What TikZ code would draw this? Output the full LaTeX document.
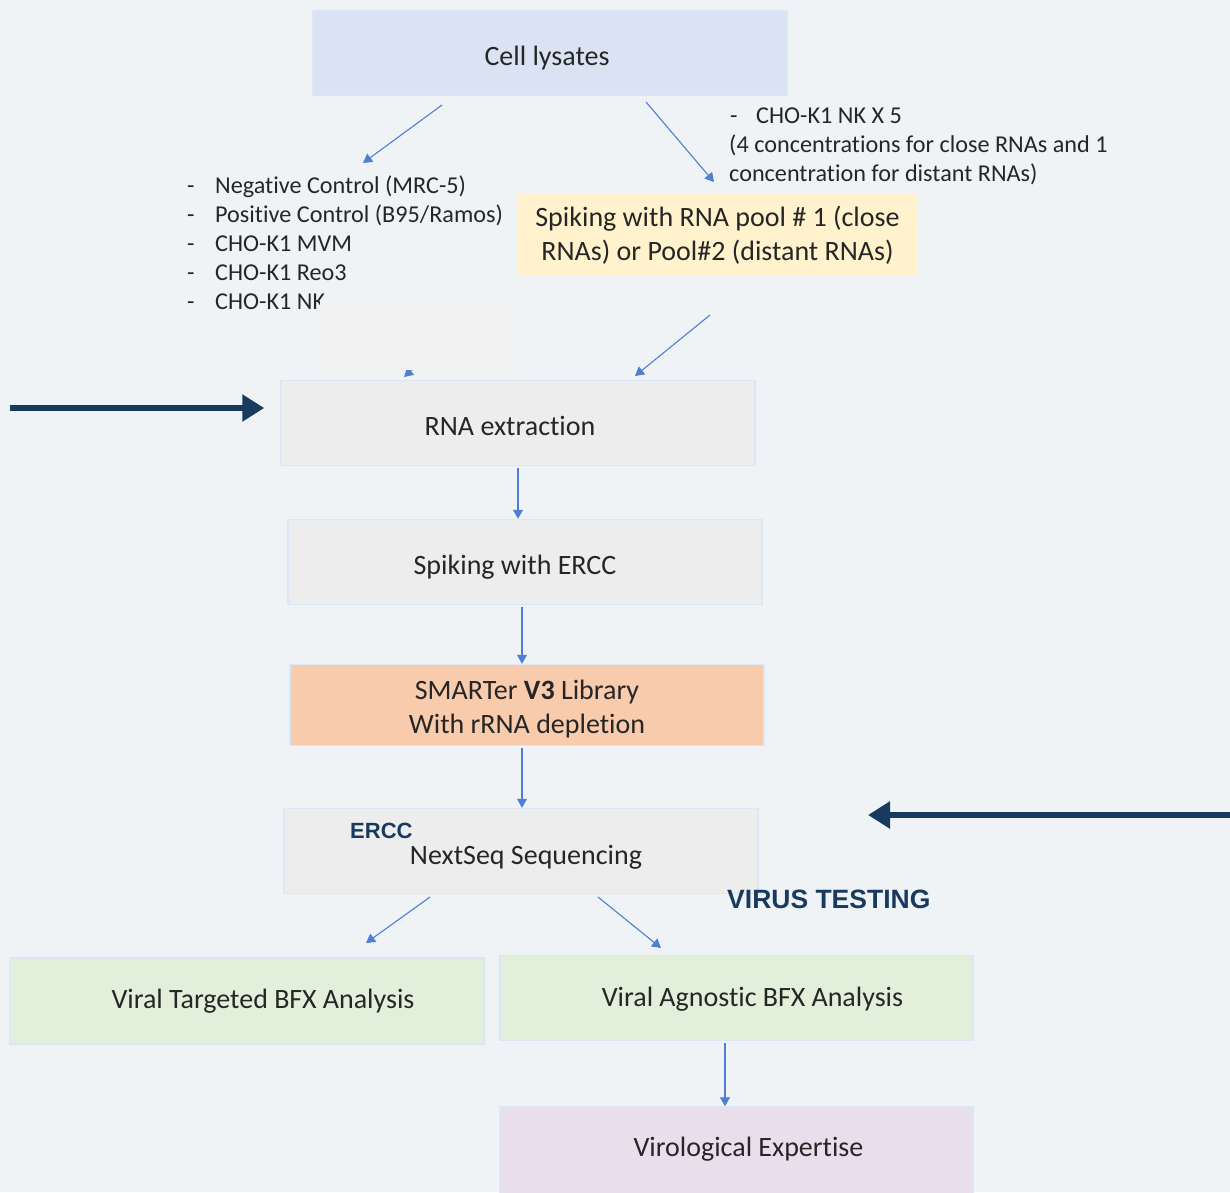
\documentclass[tikz,border=0pt]{standalone}
\usepackage{fontspec}
\setmainfont{Carlito}[Ligatures={NoCommon}]
\newfontfamily\headfont{Liberation Sans}
\usetikzlibrary{arrows.meta}
\definecolor{bgc}{HTML}{EFF3F5}
\definecolor{edgec}{HTML}{DCE6F4}
\definecolor{blueb}{HTML}{DAE3F3}
\definecolor{greyb}{HTML}{EDEDED}
\definecolor{yellowb}{HTML}{FFF2CC}
\definecolor{orangeb}{HTML}{F8CBAD}
\definecolor{greenb}{HTML}{E2EFDA}
\definecolor{pinkb}{HTML}{E9DEEC}
\definecolor{coverc}{HTML}{F2F2F2}
\definecolor{flowc}{HTML}{4F7FD2}
\definecolor{navy}{HTML}{173A5E}
\definecolor{txt}{HTML}{262626}
\tikzset{
  x=1pt, y=-1pt,
  stage/.style={draw=edgec, line width=1.5pt, minimum width=474pt, minimum height=85pt, inner sep=0pt},
  stagetxt/.style={inner sep=0pt, align=center, text=txt, font=\fontsize{28}{33.5}\selectfont},
  flow/.style={draw=flowc, line width=1.1pt, -{Triangle[width=10pt,length=9pt]}},
  bigarrow/.style={draw=navy, line width=6pt, -{Triangle[width=26pt,length=22pt]}},
  listtxt/.style={anchor=base west, inner sep=0pt, text=txt, font=\fontsize{24.2}{29}\selectfont},
  callout/.style={anchor=base west, inner sep=0pt, text=navy, font=\headfont\bfseries}
}
\begin{document}
\begin{tikzpicture}
\useasboundingbox[fill=bgc] (0,0) rectangle (1230,1192);

% process stages
\node[stage, fill=blueb] (cell) at (550,53) {};
\node[stagetxt] (cell-t) at ([shift={(-3,5)}]cell.center) {Cell lysates};
\node[stage, fill=yellowb, draw=none, minimum width=399pt, minimum height=82pt] (spike) at (717.5,234) {};
\node[stagetxt] (spike-t) at ([shift={(0,1)}]spike.center) {Spiking with RNA pool \# 1 (close\\RNAs) or Pool\#2 (distant RNAs)};
\node[stage, fill=greyb] (rna) at (518,423) {};
\node[stagetxt] (rna-t) at ([shift={(-8,3)}]rna.center) {RNA extraction};
\node[stage, fill=greyb] (ercc) at (525,562) {};
\node[stagetxt] (ercc-t) at ([shift={(-10,5)}]ercc.center) {Spiking with ERCC};
\node[stage, fill=orangeb, minimum height=81pt] (smart) at (527,705) {};
\node[stagetxt] (smart-t) at ([shift={(0,4)}]smart.center) {SMARTer \textbf{V3} Library\\With rRNA depletion};
\node[stage, fill=greyb] (seq) at (521,851) {};
\node[stagetxt] (seq-t) at ([shift={(5,6)}]seq.center) {NextSeq Sequencing};
\node[stage, fill=greenb, minimum height=86pt] (vt) at (247,1001) {};
\node[stagetxt] (vt-t) at ([shift={(16,0)}]vt.center) {Viral Targeted BFX Analysis};
\node[stage, fill=greenb, minimum width=473pt] (va) at (736.5,998) {};
\node[stagetxt] (va-t) at ([shift={(16,1)}]va.center) {Viral Agnostic BFX Analysis};
\node[stage, fill=pinkb, minimum width=473pt, minimum height=92pt] (vir) at (736.5,1153) {};
\node[stagetxt] (vir-t) at ([shift={(12,-4)}]vir.center) {Virological Expertise};

% sample lists
\foreach \t [count=\i from 0] in {Negative Control (MRC-5), Positive Control (B95/Ramos), CHO-K1 MVM, CHO-K1 Reo3, CHO-K1 NK}{
  \node[listtxt] (dash\i) at (187,193+29*\i) {-};
  \node[listtxt] (item\i) at (215,193+29*\i) {\t};
}
\node[listtxt] (nkdash) at (730,123) {-};
\node[listtxt] (nk1) at (756,123) {CHO-K1 NK X 5};
\node[listtxt] (nk2) at (729,152) {(4 concentrations for close RNAs and 1};
\node[listtxt] (nk3) at (729,181) {concentration for distant RNAs)};

% connectors out of the lysates
\coordinate (c1s) at (442,105);
\coordinate (c1e) at (363,163);
\coordinate (c2s) at (646,102);
\coordinate (c2e) at (714,182);
\draw[flow] (c1s) -- (c1e);
\draw[flow] (c2s) -- (c2e);

% connectors into the extraction
\coordinate (c3s) at (470,318);
\coordinate (c3e) at (404,377);
\draw[flow] (c3s) -- (c3e);
\node[fill=coverc, minimum width=200pt, minimum height=70pt, inner sep=0pt] (cover) at (420,335) {};
\coordinate (c4s) at (710,315);
\coordinate (c4e) at (635,376);
\draw[flow] (c4s) -- (c4e);

% main chain
\draw[flow] (rna.south -| 518,0) ++(0,2) -- (ercc.north -| 518,0);
\draw[flow] (ercc.south -| 522,0) ++(0,2) -- (smart.north -| 522,0);
\draw[flow] (smart.south -| 522,0) ++(0,2) -- (seq.north -| 522,0);
\coordinate (c5s) at (430,897);
\coordinate (c5e) at (366,943);
\coordinate (c6s) at (598,897);
\coordinate (c6e) at (661,948);
\draw[flow] (c5s) -- (c5e);
\draw[flow] (c6s) -- (c6e);
\draw[flow] (va.south -| 725,0) ++(0,2) -- (vir.north -| 725,0);

% callouts
\coordinate (lt) at (10,408);
\draw[bigarrow, shorten >=16pt] (lt) -- (lt -| rna.west);
\coordinate (rt) at (1230,815);
\coordinate (rtend) at (868,815);
\draw[bigarrow] (rt) -- (rtend);
\node[callout, font=\headfont\bfseries\fontsize{22}{26}\selectfont] (erccl) at (350,838) {ERCC};
\node[callout, font=\headfont\bfseries\fontsize{26.5}{30}\selectfont] (virus) at (727,908) {VIRUS TESTING};
\end{tikzpicture}
\end{document}
